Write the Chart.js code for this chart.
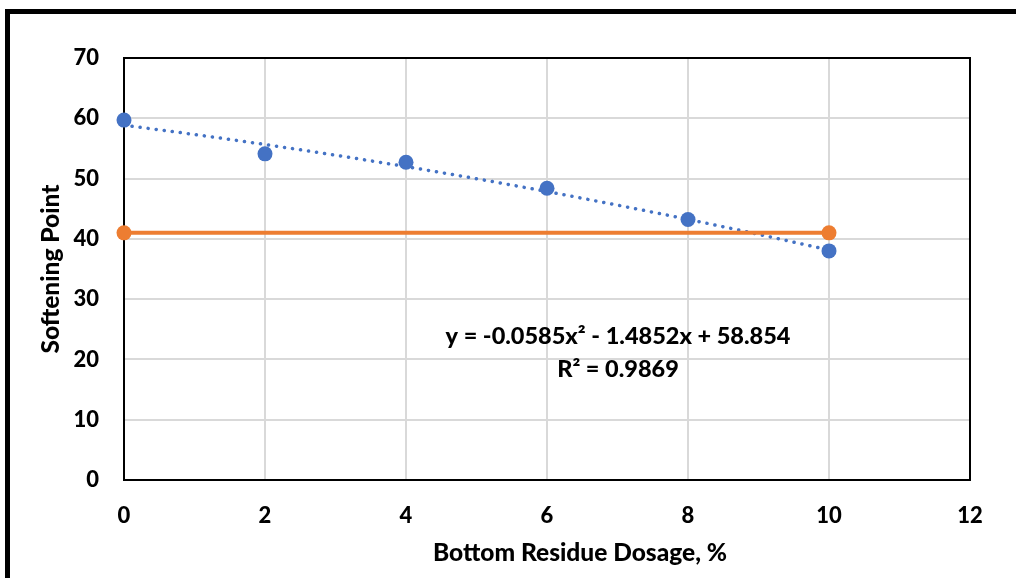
<!DOCTYPE html>
<html>
<head>
<meta charset="utf-8">
<script src="https://cdn.jsdelivr.net/npm/chart.js@4"></script>
<style>
  html, body { margin: 0; padding: 0; background: #fff; }
  #wrap { position: relative; width: 1016px; height: 578px; overflow: hidden; }
  #frame { position: absolute; left: 5px; top: 9px; width: 1100px; height: 700px;
           border-left: 5px solid #000; border-top: 5px solid #000; pointer-events: none; }
  canvas { position: absolute; left: 0; top: 0; }
</style>
</head>
<body>
<div id="wrap">
  <div id="frame"></div>
  <canvas id="c" width="1016" height="578"></canvas>
</div>
<script>
// ---- data ----
const dosage = [0, 2, 4, 6, 8, 10];
const softeningPoint = [59.7, 54.1, 52.7, 48.4, 43.2, 38.0];
const specDosage = [0, 10];
const specLimit = [41.0, 41.0];
// trendline values (as displayed: y = -0.0585x² - 1.4852x + 58.854)
const trendX = [0, 1, 2, 3, 4, 5, 6, 7, 8, 9, 10];
const trendY = [58.85, 57.31, 55.65, 53.87, 51.98, 49.97, 47.84, 45.59, 43.23, 40.75, 38.15];
const xTicks = [0, 2, 4, 6, 8, 10, 12];
const yTicks = [0, 10, 20, 30, 40, 50, 60, 70];
const equationLines = ['y = -0.0585x² - 1.4852x + 58.854', 'R² = 0.9869'];
const xTitle = 'Bottom Residue Dosage, %';
const yTitle = 'Softening Point';

const FONT = 'Lato, "Open Sans", sans-serif';
const BLUE = '#4472C4', ORANGE = '#ED7D31';

const pts = (xs, ys) => xs.map((x, i) => ({x, y: ys[i]}));

const framePlugin = {
  id: 'frame',
  beforeDatasetsDraw(chart) {
    const {ctx, chartArea: a} = chart;
    ctx.save();
    ctx.strokeStyle = '#000';
    ctx.lineWidth = 2;
    ctx.strokeRect(a.left, a.top, a.right - a.left, a.bottom - a.top);
    ctx.restore();
  },
  afterDraw(chart) {
    const {ctx, chartArea: a} = chart;
    ctx.save();
    ctx.fillStyle = '#000';
    ctx.textAlign = 'center';
    ctx.textBaseline = 'middle';
    ctx.font = '900 23.5px ' + FONT;
    ctx.fillText(equationLines[0], 618, 336);
    ctx.fillText(equationLines[1], 618, 369);
    ctx.font = '900 24.5px ' + FONT;
    ctx.fillText(xTitle, 580, 553);
    ctx.translate(51, (a.top + a.bottom) / 2);
    ctx.rotate(-Math.PI / 2);
    ctx.fillText(yTitle, 0, 0);
    ctx.restore();
  }
};

new Chart(document.getElementById('c'), {
  type: 'scatter',
  data: {
    datasets: [
      {
        label: 'Trend',
        data: pts(trendX, trendY),
        showLine: true,
        borderColor: BLUE,
        borderWidth: 3.5,
        borderDash: [0.1, 8],
        borderCapStyle: 'round',
        cubicInterpolationMode: 'monotone',
        pointRadius: 0,
        order: 3
      },
      {
        label: 'Limit',
        data: pts(specDosage, specLimit),
        showLine: true,
        borderColor: ORANGE,
        backgroundColor: ORANGE,
        borderWidth: 4,
        pointRadius: 7.5,
        pointBorderWidth: 0,
        clip: false,
        order: 2
      },
      {
        label: 'Softening Point',
        data: pts(dosage, softeningPoint),
        showLine: false,
        borderColor: BLUE,
        backgroundColor: BLUE,
        pointRadius: 7.5,
        pointBorderWidth: 0,
        clip: false,
        order: 1
      }
    ]
  },
  options: {
    responsive: false,
    animation: false,
    events: [],
    layout: { padding: { left: 0, top: 58, right: 46, bottom: 0 } },
    plugins: { legend: { display: false }, tooltip: { enabled: false } },
    scales: {
      x: {
        type: 'linear',
        min: 0, max: 12,
        afterFit: s => { s.height = 98; },
        afterBuildTicks: s => { s.ticks = xTicks.map(v => ({value: v})); },
        grid: { color: '#d9d9d9', lineWidth: 2, drawTicks: false },
        border: { display: false },
        ticks: { padding: 23, color: '#000', font: { family: FONT, size: 22, weight: '900' } }
      },
      y: {
        type: 'linear',
        min: 0, max: 70,
        afterFit: s => { s.width = 124; },
        afterBuildTicks: s => { s.ticks = yTicks.map(v => ({value: v})); },
        grid: { color: '#d9d9d9', lineWidth: 2, drawTicks: false },
        border: { display: false },
        ticks: { padding: 25, color: '#000', font: { family: FONT, size: 22, weight: '900' } }
      }
    }
  },
  plugins: [framePlugin]
});
</script>
</body>
</html>
